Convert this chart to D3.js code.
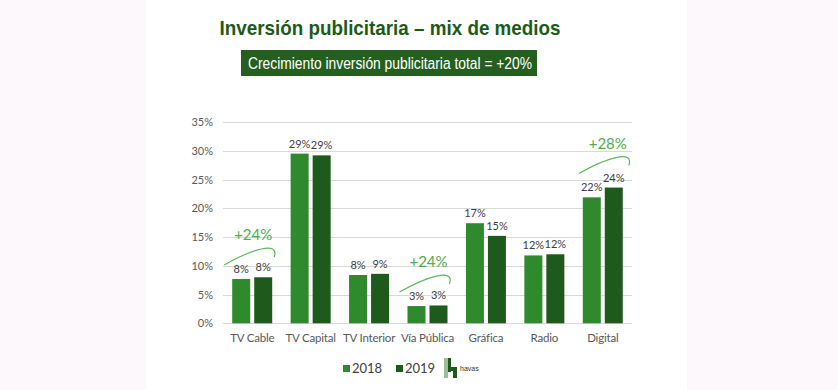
<!DOCTYPE html>
<meta charset="utf-8">
<style>
body { margin: 0; background: #fdf8fc; }
svg { display: block; }
.grid line { stroke: #d9d9d9; stroke-width: 1; }
.axis text { font-family: Lato, sans-serif; fill: #595959; }
</style>
<svg id="chart" width="838" height="390"></svg>
<script src="https://d3js.org/d3.v7.min.js"></script>
<script>
// data
var categories = ["TV Cable", "TV Capital", "TV Interior", "Vía Pública", "Gráfica", "Radio", "Digital"];
var years = ["2018", "2019"];
var values2018 = [7.7, 29.5, 8.4, 3.0, 17.4, 11.8, 21.9];
var values2019 = [8.0, 29.2, 8.6, 3.1, 15.2, 12.0, 23.6];
var labels2018 = ["8%", "29%", "8%", "3%", "17%", "12%", "22%"];
var labels2019 = ["8%", "29%", "9%", "3%", "15%", "12%", "24%"];
var yTicks = [0, 5, 10, 15, 20, 25, 30, 35];
var growthCats = ["TV Cable", "Vía Pública", "Digital"];
var growthLabels = ["+24%", "+24%", "+28%"];
var growthLevel = [11.7, 7.0, 27.6];   // where the arc sits (in % of the axis)

var colors = {"2018": "#2f8a2d", "2019": "#1e5a1b"};

var svg = d3.select("#chart");

// white panel behind the chart
svg.append("rect").attr("x", 146).attr("y", 0).attr("width", 541).attr("height", 390).attr("fill", "#fff");

// title + banner
svg.append("text")
    .attr("x", 390).attr("y", 35)
    .attr("text-anchor", "middle")
    .style("font-family", "'Liberation Sans', Arial, sans-serif")
    .style("font-weight", "bold")
    .style("font-size", "21px")
    .attr("fill", "#1d5a1a")
    .attr("textLength", 341)
    .attr("lengthAdjust", "spacingAndGlyphs")
    .text("Inversión publicitaria – mix de medios");

svg.append("rect")
    .attr("x", 241).attr("y", 50).attr("width", 296).attr("height", 26)
    .attr("fill", "#245f20");
svg.append("text")
    .attr("x", 390).attr("y", 69)
    .attr("text-anchor", "middle")
    .style("font-family", "'Liberation Sans', Arial, sans-serif")
    .style("font-size", "16px")
    .attr("fill", "#fff")
    .attr("textLength", 284)
    .attr("lengthAdjust", "spacingAndGlyphs")
    .text("Crecimiento inversión publicitaria total = +20%");

var margin = {left: 223, right: 632, top: 122, bottom: 323.3};

var x = d3.scaleBand().domain(categories).range([margin.left, margin.right]);
var y = d3.scaleLinear().domain([0, 35]).range([margin.bottom, margin.top]);

// gridlines
svg.append("g").attr("class", "grid")
  .selectAll("line").data(yTicks).enter().append("line")
    .attr("x1", margin.left).attr("x2", margin.right)
    .attr("y1", function(d) { return Math.round(y(d)) + 0.5; })
    .attr("y2", function(d) { return Math.round(y(d)) + 0.5; });

// y axis
var yAxis = svg.append("g").attr("class", "axis")
    .attr("transform", "translate(" + (margin.left - 6) + ",0)")
    .call(d3.axisLeft(y).tickValues(yTicks).tickFormat(function(d) { return d + "%"; }).tickSize(0).tickPadding(4));
yAxis.select(".domain").remove();
yAxis.selectAll("text").style("font-size", "11px");

// x axis
var xAxis = svg.append("g").attr("class", "axis")
    .attr("transform", "translate(0," + margin.bottom + ")")
    .call(d3.axisBottom(x).tickSize(0).tickPadding(11));
xAxis.select(".domain").remove();
xAxis.selectAll("text").style("font-size", "11.5px").style("letter-spacing", "-0.2px").attr("fill", "#404040");

// bars
var barW = 18, gap = 4;
var rows = categories.map(function(c, i) {
  return [
    {cat: c, year: "2018", v: values2018[i], label: labels2018[i], off: -gap / 2 - barW},
    {cat: c, year: "2019", v: values2019[i], label: labels2019[i], off: gap / 2}
  ];
});
var flat = [].concat.apply([], rows);

svg.append("g").selectAll("rect").data(flat).enter().append("rect")
    .attr("x", function(d) { return x(d.cat) + x.bandwidth() / 2 + d.off; })
    .attr("y", function(d) { return y(d.v); })
    .attr("width", barW)
    .attr("height", function(d) { return y(0) - y(d.v); })
    .attr("fill", function(d) { return colors[d.year]; });

svg.append("g").selectAll("text").data(flat).enter().append("text")
    .attr("x", function(d) { return x(d.cat) + x.bandwidth() / 2 + d.off + barW / 2; })
    .attr("y", function(d) { return y(d.v) - 6; })
    .attr("text-anchor", "middle")
    .style("font-family", "Lato, sans-serif")
    .style("font-size", "11px")
    .attr("fill", "#404040")
    .text(function(d) { return d.label; });

// growth annotations
var ann = svg.append("g");
growthCats.forEach(function(c, i) {
  var cx = x(c) + x.bandwidth() / 2 + (c === "Digital" ? 4 : 0);
  var by = y(growthLevel[i]);
  ann.append("path")
    .attr("d", "M" + (cx - 28) + "," + (by + 9) +
               "C" + (cx - 2) + "," + (by - 6) + " " + (cx + 28) + "," + (by - 16) + " " + (cx + 22) + "," + (by + 1))
    .attr("fill", "none")
    .attr("stroke", "#5cb85c")
    .attr("stroke-width", 1.2);
  ann.append("text")
    .attr("x", cx + 1).attr("y", by - 16)
    .attr("text-anchor", "middle")
    .style("font-family", "Lato, sans-serif")
    .style("font-size", "15px")
    .attr("fill", "#4cae4c")
    .text(growthLabels[i]);
});

// legend
var legend = svg.append("g");
var legX = [343, 396];
years.forEach(function(yr, i) {
  legend.append("rect").attr("x", legX[i]).attr("y", 365).attr("width", 7).attr("height", 7).attr("fill", colors[yr]);
  legend.append("text").attr("x", legX[i] + 9).attr("y", 373)
    .style("font-family", "Lato, sans-serif").style("font-size", "13px")
    .attr("fill", "#404040").text(yr);
});

// havas logo
var logo = svg.append("g");
logo.append("rect").attr("x", 444).attr("y", 358).attr("width", 4).attr("height", 20).attr("fill", "#9cbf9a");
logo.append("rect").attr("x", 448).attr("y", 358).attr("width", 3).attr("height", 14).attr("fill", "#1e5a1b");
logo.append("rect").attr("x", 448).attr("y", 367).attr("width", 9).attr("height", 4).attr("fill", "#1e5a1b");
logo.append("rect").attr("x", 453).attr("y", 367).attr("width", 4).attr("height", 11).attr("fill", "#1e5a1b");
logo.append("text").attr("x", 460).attr("y", 371)
    .style("font-family", "'Liberation Sans', Arial, sans-serif").style("font-size", "7px")
    .attr("fill", "#333").text("havas");
</script>
